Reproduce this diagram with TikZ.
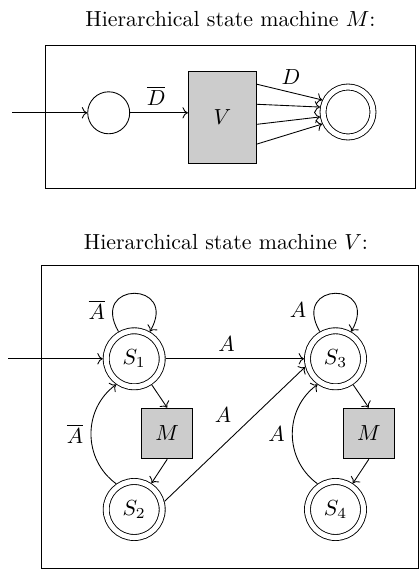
\documentclass[tikz,border=0pt]{standalone}
\usetikzlibrary{arrows.meta,calc}
\newcommand\pxu{0.458pt}
\begin{document}
\begin{tikzpicture}[x=0.458pt,y=0.458pt,
  frame/.style={draw},
  plainst/.style={circle,draw,minimum size=42*\pxu,inner sep=0pt},
  accst/.style={circle,draw,double,double distance=5.1*\pxu,inner sep=0pt,outer sep=1.57pt},
  graybox/.style={draw,fill=black!20,inner sep=0pt},
  lbl/.style={inner sep=3.33pt},
  every path/.style={>=To}]
\useasboundingbox (0,0) rectangle (419,575);
% ---- machine M ----
\node (tM) at (230.5,556) {Hierarchical state machine $M$:};
\draw[frame] (45.7,529.3) rectangle (415,386.7);
\coordinate (iM) at (12.3,462.2);
\node[plainst] (c0) at (108.7,462.2) {};
\node[graybox,minimum width=68.4*\pxu,minimum height=91.5*\pxu] (V) at (222.5,457.8) {$V$};
\node[accst,minimum size=50*\pxu] (F) at (348,463) {};
\draw[->] (iM) -- (c0);
\draw[->] (c0.east) -- node[lbl,above,pos=0.45] {$\overline{D}$} (c0.east -| V.west);
\draw[->] ([yshift=32.9*\pxu]V.east) -- node[lbl,above,pos=0.52] {$D$} (F.155);
\draw[->] ([yshift=12.9*\pxu]V.east) -- (F.170);
\draw[->] ([yshift=-7.1*\pxu]V.east) -- (F.190);
\draw[->] ([yshift=-26.8*\pxu]V.east) -- (F.205);
% ---- machine V ----
\node (tV) at (226,333) {Hierarchical state machine $V$:};
\draw[frame] (41,309.5) rectangle (418.3,6.7);
\coordinate (iV) at (8,216.2);
\node[accst,minimum size=56*\pxu] (S1) at (134.2,216.2) {$S_1$};
\node[accst,minimum size=56*\pxu] (S2) at (134.2,65.5) {$S_2$};
\node[accst,minimum size=56*\pxu] (S3) at (335.5,216.2) {$S_3$};
\node[accst,minimum size=56*\pxu] (S4) at (335.5,65.5) {$S_4$};
\node[graybox,minimum width=51*\pxu,minimum height=50.7*\pxu] (M1) at (167.2,141.5) {$M$};
\node[graybox,minimum width=51*\pxu,minimum height=50.7*\pxu] (M2) at (368.8,141.5) {$M$};
\draw[->] (iV) -- (S1);
\draw[->] (S1) to[out=120,in=60,looseness=4.8] node[lbl,left,pos=0.17] {$\overline{A}$} (S1);
\draw[->] (S3) to[out=120,in=60,looseness=4.8] node[lbl,left,pos=0.17] {$A$} (S3);
\draw[->] (S1) -- node[lbl,above,pos=0.44] {$A$} (S3);
\draw[->] (S1) -- (M1.north);
\draw[->] (M1.south) -- (S2);
\draw[->] (S3) -- (M2.north);
\draw[->] (M2.south) -- (S4);
\draw[->] (S2.125) to[out=144,in=216,looseness=1.07] node[lbl,left] {$\overline{A}$} (S1.235);
\draw[->] (S4.125) to[out=144,in=216,looseness=1.07] node[lbl,left] {$A$} (S3.235);
\draw[->] (S2.15) -- node[lbl,above left,pos=0.53] {$A$} (S3.195);
\end{tikzpicture}
\end{document}
